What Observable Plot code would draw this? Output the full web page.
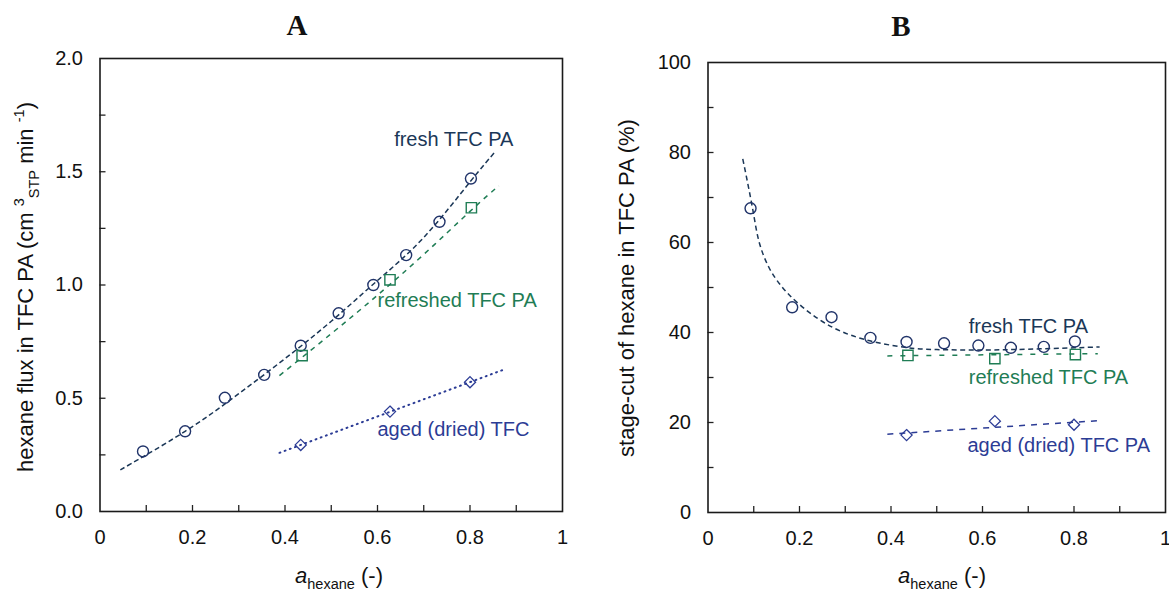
<!DOCTYPE html>
<html><head><meta charset="utf-8">
<script src="https://cdn.jsdelivr.net/npm/d3@7"></script>
<script src="https://cdn.jsdelivr.net/npm/@observablehq/plot@0.6"></script>
<style>
html,body{margin:0;padding:0;background:#fff;}
#chart{position:relative;width:1169px;height:591px;overflow:hidden;background:#fff;}
#chart > svg{position:absolute;top:0;}
</style></head>
<body><div id="chart"></div>
<script>
// ---------- data ----------
const xTickLabels = [0, 0.2, 0.4, 0.6, 0.8, 1];
const xTickMarks = [0.1, 0.2, 0.3, 0.4, 0.5, 0.6, 0.7, 0.8, 0.9];
const yTickLabelsA = [0, 0.5, 1.0, 1.5, 2.0];
const yTickMarksA = [0.25, 0.5, 0.75, 1.0, 1.25, 1.5, 1.75];
const yTickLabelsB = [0, 20, 40, 60, 80, 100];
const yTickMarksB = [10, 20, 30, 40, 50, 60, 70, 80, 90];

// hexane activity of the measurements
const aFresh = [0.093, 0.184, 0.270, 0.355, 0.434, 0.516, 0.591, 0.662, 0.734, 0.802];
const aRefreshed = [0.437, 0.627, 0.803];
const aAged = [0.434, 0.627, 0.800];

// panel A: hexane flux (cm3 STP / min)
const fluxFresh = [0.265, 0.354, 0.502, 0.603, 0.732, 0.875, 1.000, 1.132, 1.279, 1.470];
const fluxRefreshed = [0.688, 1.023, 1.341];
const fluxAged = [0.294, 0.441, 0.571];

// panel B: stage-cut of hexane (%)
const cutFresh = [67.6, 45.6, 43.4, 38.8, 37.9, 37.6, 37.1, 36.6, 36.8, 38.0];
const cutRefreshed = [34.9, 34.2, 35.1];
const cutAged = [17.2, 20.3, 19.5];

// trend lines drawn in the figure
const fitFluxFreshX = [0.044, 0.1, 0.2, 0.3, 0.4, 0.5, 0.6, 0.7, 0.8, 0.856];
const fitFluxFreshY = [0.184, 0.25, 0.375, 0.52, 0.675, 0.84, 1.02, 1.21, 1.455, 1.592];
const fitFluxRefreshedX = [0.388, 0.5, 0.6, 0.7, 0.8, 0.862];
const fitFluxRefreshedY = [0.60, 0.785, 0.955, 1.135, 1.325, 1.438];
const fitFluxAgedX = [0.388, 0.8725];
const fitFluxAgedY = [0.259, 0.626];
const fitCutFreshX = [0.076, 0.097, 0.111, 0.133, 0.162, 0.198, 0.257, 0.337, 0.43, 0.5, 0.6, 0.7, 0.8, 0.856];
const fitCutFreshY = [78.6, 67.8, 60.4, 54.5, 50.1, 46.4, 42.0, 38.6, 36.7, 36.2, 36.1, 36.3, 36.6, 36.8];
const fitCutRefreshedX = [0.392, 0.852];
const fitCutRefreshedY = [34.8, 35.3];
const fitCutAgedX = [0.392, 0.852];
const fitCutAgedY = [17.4, 20.4];

// series annotations
const labelsA = ["fresh TFC PA", "refreshed TFC PA", "aged (dried) TFC"];
const labelAX = [0.636, 0.600, 0.600];
const labelAY = [1.64, 0.931, 0.362];
const labelsB = ["fresh TFC PA", "refreshed TFC PA", "aged (dried) TFC PA"];
const labelBX = [0.570, 0.570, 0.567];
const labelBY = [41.4, 29.9, 14.9];

// ---------- styling ----------
const H = 591;
const fontSans = '"Liberation Sans", Arial, Helvetica, sans-serif';
const fontSerif = '"Liberation Serif", "Times New Roman", serif';
const col = {fresh: "#1b3757", freshDot: "#21346a", refreshed: "#1f7d55", aged: "#2c3c95"};
const labelColors = [col.fresh, col.refreshed, col.aged];

const zip = (xs, ys) => xs.map((x, i) => ({x, y: ys[i]}));
const xFmt = d => (d === 0 || d === 1) ? String(d) : d.toFixed(1);

function seriesMarks(fits, pts, labels, lx, ly, dashes) {
  const marks = [];
  const names = ["fresh", "refreshed", "aged"];
  names.forEach((n, i) => {
    const dotted = dashes[i].startsWith("1,");
    marks.push(Plot.line(zip(fits[i][0], fits[i][1]), {
      x: "x", y: "y", curve: "natural", stroke: col[n], strokeWidth: dotted ? 2 : 1.5,
      strokeDasharray: dashes[i], strokeLinecap: dotted ? "round" : "butt"
    }));
  });
  marks.push(Plot.dot(zip(pts[0][0], pts[0][1]), {x: "x", y: "y", r: 5.5, fill: "none", stroke: col.freshDot, strokeWidth: 1.4}));
  marks.push(Plot.dot(zip(pts[1][0], pts[1][1]), {x: "x", y: "y", symbol: "square", r: 5.8, fill: "none", stroke: col.refreshed, strokeWidth: 1.4}));
  marks.push(Plot.dot(zip(pts[2][0], pts[2][1]), {x: "x", y: "y", symbol: "diamond2", r: 5, fill: "none", stroke: col.aged, strokeWidth: 1.3}));
  labels.forEach((t, i) => {
    marks.push(Plot.text([t], {x: () => lx[i], y: () => ly[i], text: d => d, textAnchor: "start", fill: labelColors[i], fontSize: 20}));
  });
  return marks;
}

function makePanel(cfg) {
  const fw = cfg.width - cfg.mL - cfg.mR, fh = H - cfg.mT - cfg.mB;
  return Plot.plot({
    width: cfg.width, height: H,
    marginLeft: cfg.mL, marginRight: cfg.mR, marginTop: cfg.mT, marginBottom: cfg.mB,
    style: {fontFamily: fontSans, fontSize: "20px", color: "#111", background: "transparent", overflow: "visible"},
    x: {domain: [0, 1], label: null},
    y: {domain: cfg.yDomain, label: null},
    marks: [
      Plot.axisX({ticks: xTickLabels, tickSize: 0, tickPadding: 18, tickFormat: xFmt, label: null}),
      Plot.axisY({ticks: cfg.yLabels, tickSize: 0, tickPadding: 17, tickFormat: cfg.yFmt, label: null}),
      Plot.tickX(xTickMarks, {x: d => d, insetTop: fh - 6, stroke: "#222", strokeWidth: 1.3}),
      Plot.tickY(cfg.yMarks, {y: d => d, insetRight: fw - 6, stroke: "#222", strokeWidth: 1.3}),
      ...cfg.marks,
      Plot.frame({stroke: "#1a1a1a", strokeWidth: 1.6})
    ]
  });
}

function richText(svg, {x, y, rotate = 0, size, parts, anchor = "middle", family = fontSans, weight = "normal", fill = "#111"}) {
  const t = d3.select(svg).append("text")
    .attr("transform", `translate(${x},${y})` + (rotate ? ` rotate(${rotate})` : ""))
    .attr("text-anchor", anchor).attr("font-family", family).attr("font-size", size)
    .attr("font-weight", weight).attr("fill", fill).style("white-space", "pre");
  let shift = 0;
  for (const [txt, kind, fstyle] of parts) {
    const target = kind === "sup" ? -0.42 * size : kind === "sub" ? 0.25 * size : 0;
    const ts = t.append("tspan").attr("dy", target - shift).text(txt);
    if (kind) ts.attr("font-size", size * 0.66);
    if (fstyle) ts.attr("font-style", fstyle);
    shift = target;
  }
}

const root = document.getElementById("chart");

// ---------- Panel A ----------
const svgA = makePanel({
  width: 600, mL: 99.5, mR: 38, mT: 58, mB: 80,
  yDomain: [0, 2], yLabels: yTickLabelsA, yMarks: yTickMarksA, yFmt: d => d.toFixed(1),
  marks: seriesMarks(
    [[fitFluxFreshX, fitFluxFreshY], [fitFluxRefreshedX, fitFluxRefreshedY], [fitFluxAgedX, fitFluxAgedY]],
    [[aFresh, fluxFresh], [aRefreshed, fluxRefreshed], [aAged, fluxAged]],
    labelsA, labelAX, labelAY, ["5,3", "5,5", "1,4.5"])
});
svgA.style.left = "0px";
root.appendChild(svgA);
richText(svgA, {x: 297, y: 35, size: 29, family: fontSerif, weight: "bold", parts: [["A"]]});
richText(svgA, {x: 339, y: 583, size: 22, parts: [["a", "", "italic"], ["hexane", "sub"], [" (-)"]]});
richText(svgA, {x: 33, y: 287, rotate: -90, size: 22,
  parts: [["hexane flux in TFC PA (cm "], ["3", "sup"], ["STP", "sub"], [" min "], ["-1", "sup"], [")"]]});

// ---------- Panel B ----------
const svgB = makePanel({
  width: 569, mL: 107.5, mR: 4, mT: 62, mB: 79,
  yDomain: [0, 100], yLabels: yTickLabelsB, yMarks: yTickMarksB, yFmt: d => String(d),
  marks: seriesMarks(
    [[fitCutFreshX, fitCutFreshY], [fitCutRefreshedX, fitCutRefreshedY], [fitCutAgedX, fitCutAgedY]],
    [[aFresh, cutFresh], [aRefreshed, cutRefreshed], [aAged, cutAged]],
    labelsB, labelBX, labelBY, ["5,3.5", "5,8", "6,6"])
});
svgB.style.left = "600px";
root.appendChild(svgB);
richText(svgB, {x: 301, y: 36, size: 29, family: fontSerif, weight: "bold", parts: [["B"]]});
richText(svgB, {x: 342, y: 583, size: 22, parts: [["a", "", "italic"], ["hexane", "sub"], [" (-)"]]});
richText(svgB, {x: 34, y: 288, rotate: -90, size: 22, parts: [["stage-cut of hexane in TFC PA (%)"]]});
</script>
</body></html>
